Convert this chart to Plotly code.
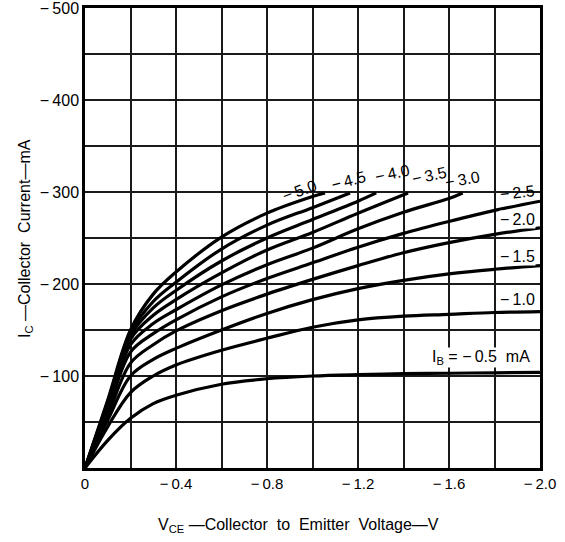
import plotly.graph_objects as go

# ---- data (V_CE in volts, I_C in mA) ----
IB_LABELS = ["−0.5", "−1.0", "−1.5", "−2.0", "−2.5", "−3.0", "−3.5", "−4.0", "−4.5", "−5.0"]

V_FULL = [0, -0.1, -0.2, -0.3, -0.4, -0.6, -0.8, -1.0, -1.2, -1.4, -1.6, -1.8, -2.0]
V_30 = [0, -0.1, -0.2, -0.3, -0.4, -0.6, -0.8, -1.0, -1.2, -1.4, -1.6, -1.66]
V_35 = [0, -0.1, -0.2, -0.3, -0.4, -0.6, -0.8, -1.0, -1.2, -1.42]
V_40 = [0, -0.1, -0.2, -0.3, -0.4, -0.6, -0.8, -1.0, -1.2, -1.28]
V_45 = [0, -0.1, -0.2, -0.3, -0.4, -0.6, -0.8, -1.0, -1.165]
V_50 = [0, -0.1, -0.2, -0.3, -0.4, -0.6, -0.8, -1.0, -1.055]

IC_05 = [0, -30, -54, -70, -79, -91, -97, -100, -101.5, -102.5, -103, -103.5, -104]
IC_10 = [0, -45, -82, -100, -112, -128, -141, -153, -161, -165, -167, -169, -170]
IC_15 = [0, -52, -100, -118, -130, -150, -168, -183, -195, -204, -211, -216, -220]
IC_20 = [0, -57, -114, -134, -149, -171, -189, -205, -220, -234, -245, -254, -261]
IC_25 = [0, -62, -126, -146, -161, -186, -206, -223, -240, -255, -268, -280, -290]
IC_30 = [0, -65, -134, -157, -172, -199, -221, -239, -260, -278, -293, -299]
IC_35 = [0, -68, -140, -166, -183, -212, -237, -256, -277, -299]
IC_40 = [0, -70, -144, -174, -193, -225, -250, -270, -290, -299]
IC_45 = [0, -72, -147, -181, -202, -238, -264, -283, -299]
IC_50 = [0, -74, -150, -189, -213, -251, -277, -295, -299]

X_TICKS = [0, -0.2, -0.4, -0.6, -0.8, -1.0, -1.2, -1.4, -1.6, -1.8, -2.0]
X_TICKTEXT = ["0", "", "−\u20090.4", "", "−\u20090.8", "", "−\u20091.2", "", "−\u20091.6", "", "−\u20092.0"]
Y_TICKS = [0, -50, -100, -150, -200, -250, -300, -350, -400, -450, -500]
Y_TICKTEXT = ["", "", "−\u2009100", "", "−\u2009200", "", "−\u2009300", "", "−\u2009400", "", "−\u2009500"]

X_TITLE = "V<sub>CE</sub> —Collector  to  Emitter  Voltage—V"
Y_TITLE = "I<sub>C</sub> —Collector  Current—mA"

series = [
    (V_FULL, IC_05), (V_FULL, IC_10), (V_FULL, IC_15), (V_FULL, IC_20),
    (V_FULL, IC_25), (V_30, IC_30), (V_35, IC_35), (V_40, IC_40),
    (V_45, IC_45), (V_50, IC_50),
]

FONT = "Liberation Sans, Arial, sans-serif"
fig = go.Figure()
for (vx, iy), lab in zip(series, IB_LABELS):
    fig.add_trace(go.Scatter(
        x=vx, y=iy, mode="lines", name=lab,
        line=dict(color="black", width=3.2, shape="spline", smoothing=1.0),
        hoverinfo="skip", showlegend=False,
    ))

# curve labels: (text, x, y, angle)
label_pos = [
    ("I<sub>B</sub> = −\u20090.5  mA", -1.74, -120, 0),
    ("−\u20091.0", -1.90, -183, 0),
    ("−\u20091.5", -1.90, -230, 0),
    ("−\u20092.0", -1.90, -270, 0),
    ("−\u20092.5", -1.90, -299, -6),
    ("−\u20093.0", -1.66, -314, -10),
    ("−\u20093.5", -1.515, -318, -12),
    ("−\u20094.0", -1.35, -320, -12),
    ("−\u20094.5", -1.16, -313, -15),
    ("−\u20095.0", -0.945, -302, -20),
]
for txt, ax_, ay_, ang in label_pos:
    fig.add_annotation(
        x=ax_, y=ay_, text=txt, showarrow=False, textangle=ang,
        font=dict(family=FONT, size=16, color="black"),
        bgcolor="white" if ang == 0 else "rgba(0,0,0,0)", borderpad=0,
    )

# axis titles as annotations (precise placement)
fig.add_annotation(xref="paper", yref="paper", x=0.47, y=-0.124, text=X_TITLE,
                   showarrow=False, xanchor="center", yanchor="middle",
                   font=dict(family=FONT, size=16, color="black"))
fig.add_annotation(xref="paper", yref="paper", x=-0.132, y=0.5, text=Y_TITLE,
                   showarrow=False, xanchor="center", yanchor="middle", textangle=-90,
                   font=dict(family=FONT, size=16, color="black"))

fig.update_layout(
    width=565, height=542,
    margin=dict(l=85, r=25, t=8, b=74),
    paper_bgcolor="white", plot_bgcolor="white",
    font=dict(family=FONT, size=15, color="black"),
)
fig.update_xaxes(
    range=[0, -2.0], tickvals=X_TICKS, ticktext=X_TICKTEXT, automargin=False,
    ticklabeloverflow="allow",
    showgrid=True, gridcolor="#1a1a1a", gridwidth=1.6,
    showline=True, linecolor="black", linewidth=2.5, mirror=True,
    zeroline=False, ticks="", tickfont=dict(size=15),
)
fig.update_yaxes(
    range=[0, -500], tickvals=Y_TICKS, ticktext=Y_TICKTEXT, automargin=False,
    ticklabeloverflow="allow",
    showgrid=True, gridcolor="#1a1a1a", gridwidth=1.6,
    showline=True, linecolor="black", linewidth=2.5, mirror=True,
    zeroline=False, ticks="", tickfont=dict(size=16),
)

fig.write_html("out.html", config={"displayModeBar": False},
               post_script="document.body.style.margin='0';")
